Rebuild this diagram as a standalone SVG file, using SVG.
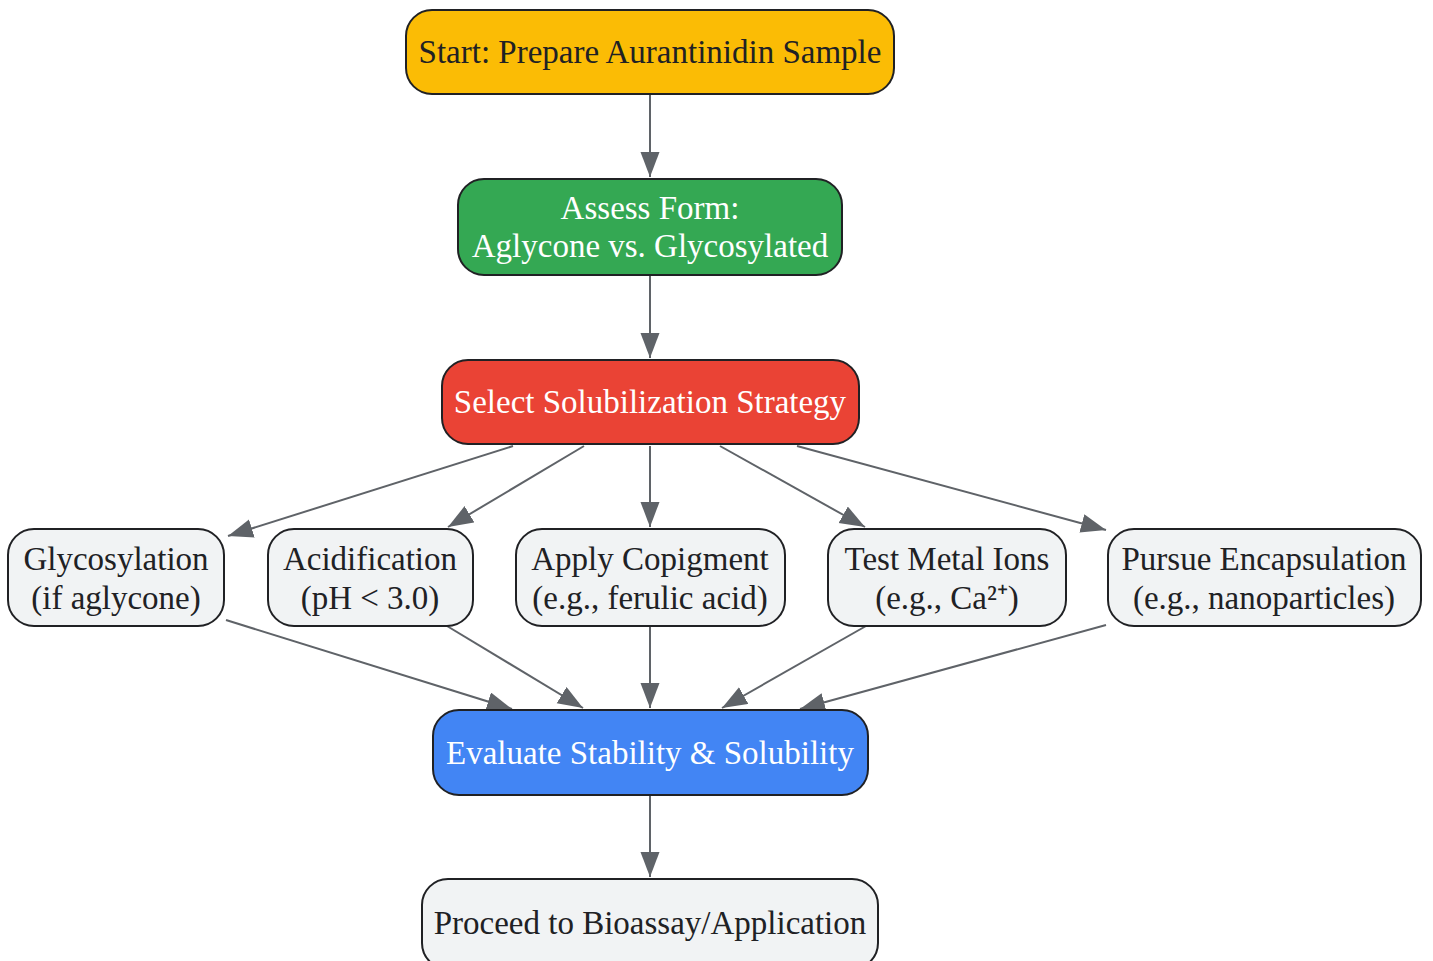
<svg xmlns="http://www.w3.org/2000/svg" width="1433" height="961" viewBox="0 0 1433 961">
<style>
.n{stroke:#202124;stroke-width:2}
.t{font-family:"Liberation Serif","Times New Roman",serif;font-size:33px;text-anchor:middle;fill:#202124}
.w{fill:#ffffff}
.e{stroke:#5f6368;stroke-width:2;fill:none}
</style>
<defs>
<marker id="a" markerUnits="userSpaceOnUse" markerWidth="26" markerHeight="20" refX="25" refY="9.5" orient="auto"><path d="M0,0 L25,9.5 L0,19 z" fill="#5f6368"/></marker>
</defs>
<rect width="1433" height="961" fill="#ffffff"/>
<g id="edges">
<line class="e" x1="650" y1="95" x2="650" y2="177" marker-end="url(#a)"/>
<line class="e" x1="650" y1="276" x2="650" y2="358" marker-end="url(#a)"/>
<line class="e" x1="513" y1="446" x2="228" y2="536" marker-end="url(#a)"/>
<line class="e" x1="584" y1="446" x2="448" y2="527" marker-end="url(#a)"/>
<line class="e" x1="650" y1="446" x2="650" y2="527" marker-end="url(#a)"/>
<line class="e" x1="720" y1="446" x2="865" y2="527" marker-end="url(#a)"/>
<line class="e" x1="797" y1="446" x2="1106" y2="530" marker-end="url(#a)"/>
<line class="e" x1="226" y1="620" x2="512" y2="709" marker-end="url(#a)"/>
<line class="e" x1="447" y1="626" x2="583" y2="708" marker-end="url(#a)"/>
<line class="e" x1="650" y1="627" x2="650" y2="708" marker-end="url(#a)"/>
<line class="e" x1="866" y1="626" x2="722" y2="708" marker-end="url(#a)"/>
<line class="e" x1="1106" y1="625" x2="800" y2="709" marker-end="url(#a)"/>
<line class="e" x1="650" y1="796" x2="650" y2="877" marker-end="url(#a)"/>
</g>
<g id="start">
<rect class="n" x="406" y="10" width="488" height="84" rx="26" fill="#FBBC05"/>
<text class="t" x="650" y="63">Start: Prepare Aurantinidin Sample</text>
</g>
<g id="assess">
<rect class="n" x="458" y="179" width="384" height="96" rx="26" fill="#34A853"/>
<text class="t w" x="650" y="219">Assess Form:</text>
<text class="t w" x="650" y="257">Aglycone vs. Glycosylated</text>
</g>
<g id="select">
<rect class="n" x="442" y="360" width="417" height="84" rx="26" fill="#EA4335"/>
<text class="t w" x="650" y="413">Select Solubilization Strategy</text>
</g>
<g id="glyco">
<rect class="n" x="8" y="529" width="216" height="97" rx="26" fill="#F1F3F4"/>
<text class="t" x="116" y="570">Glycosylation</text>
<text class="t" x="116" y="609">(if aglycone)</text>
</g>
<g id="acid">
<rect class="n" x="268" y="529" width="205" height="97" rx="26" fill="#F1F3F4"/>
<text class="t" x="370" y="570">Acidification</text>
<text class="t" x="370" y="609">(pH &lt; 3.0)</text>
</g>
<g id="copig">
<rect class="n" x="516" y="529" width="269" height="97" rx="26" fill="#F1F3F4"/>
<text class="t" x="650" y="570">Apply Copigment</text>
<text class="t" x="650" y="609">(e.g., ferulic acid)</text>
</g>
<g id="metal">
<rect class="n" x="828" y="529" width="238" height="97" rx="26" fill="#F1F3F4"/>
<text class="t" x="947" y="570">Test Metal Ions</text>
<text class="t" x="947" y="609">(e.g., Ca²⁺)</text>
</g>
<g id="encap">
<rect class="n" x="1108" y="529" width="313" height="97" rx="26" fill="#F1F3F4"/>
<text class="t" x="1264" y="570">Pursue Encapsulation</text>
<text class="t" x="1264" y="609">(e.g., nanoparticles)</text>
</g>
<g id="evaluate">
<rect class="n" x="433" y="710" width="435" height="85" rx="26" fill="#4285F4"/>
<text class="t w" x="650" y="764">Evaluate Stability &amp; Solubility</text>
</g>
<g id="proceed">
<rect class="n" x="422" y="879" width="456" height="90" rx="26" fill="#F1F3F4"/>
<text class="t" x="650" y="934">Proceed to Bioassay/Application</text>
</g>
</svg>
